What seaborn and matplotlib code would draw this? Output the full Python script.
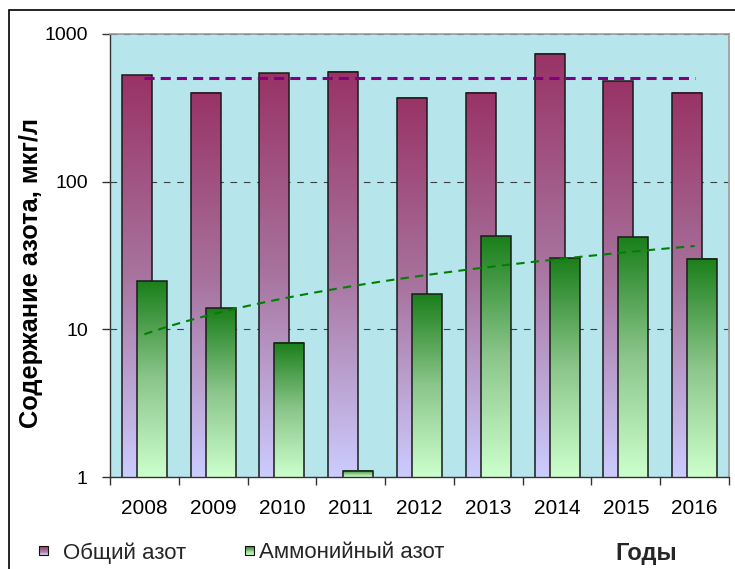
import numpy as np
import pandas as pd
import matplotlib
matplotlib.use("Agg")
import matplotlib.pyplot as plt
import seaborn as sns
from matplotlib.colors import LinearSegmentedColormap
from matplotlib.patches import Rectangle
from matplotlib.legend_handler import HandlerBase
from matplotlib.ticker import NullLocator, FixedLocator

# --- data ---------------------------------------------------------------
years = ["2008", "2009", "2010", "2011", "2012", "2013", "2014", "2015", "2016"]
total_n = [527, 400, 541, 555, 370, 400, 735, 480, 400]          # Общий азот
ammonium_n = [21.2, 13.9, 8.1, 1.1, 17.3, 42.8, 30.3, 42.0, 30.0]  # Аммонийный азот
norm_total = 500
series_names = ["Общий азот", "Аммонийный азот"]
y_ticks = [1, 10, 100, 1000]
y_tick_labels = ["1", "10", "100", "1000"]

# --- style --------------------------------------------------------------
sns.set_theme(style="white")
plt.rcParams["font.family"] = ["Liberation Sans", "DejaVu Sans"]

purple_cmap = LinearSegmentedColormap.from_list("purple_grad", ["#ccccff", "#a8749f", "#993366"])
green_cmap = LinearSegmentedColormap.from_list("green_grad", ["#ccffcc", "#8cc68c", "#1a7f1a"])
cmaps = [purple_cmap, green_cmap]

df = pd.DataFrame({
    "Год": years * 2,
    "value": total_n + ammonium_n,
    "series": [series_names[0]] * len(years) + [series_names[1]] * len(years),
})

fig = plt.figure(figsize=(7.35, 5.69), dpi=100)
ax = fig.add_axes([110 / 735, 92 / 569, 619 / 735, 443 / 569])
ax.set_facecolor("#b6e5ec")

bar_w = 0.435
shift = 0.109
sns.barplot(data=df, x="Год", y="value", hue="series", dodge=False, width=bar_w,
            palette=["#a8749f", "#8cc68c"], edgecolor="#1a1a1a", linewidth=1.1,
            legend=False, ax=ax)

ax.set_yscale("log")
ax.set_ylim(1, 1000)
ax.set_xlim(-0.5, len(years) - 0.5)
ax.set_autoscale_on(False)

# shift the two series so they partly overlap, then give each bar a vertical gradient
to_axes = ax.transData + ax.transAxes.inverted()
grad = np.linspace(1, 0, 256).reshape(-1, 1)
for k, (cont, cmap) in enumerate(zip(ax.containers, cmaps)):
    dx = -shift if k == 0 else shift
    for rect in cont:
        rect.set_x(rect.get_x() + dx)
        x0, w, h = rect.get_x(), rect.get_width(), rect.get_height()
        xa0, ya0 = to_axes.transform((x0, 1))
        xa1, ya1 = to_axes.transform((x0 + w, h))
        ax.imshow(grad, cmap=cmap, aspect="auto", extent=[xa0, xa1, ya0, ya1],
                  transform=ax.transAxes, origin="upper", zorder=2 + 0.2 * k,
                  interpolation="bilinear")
        rect.set_facecolor("none")
        rect.set_zorder(2.1 + 0.2 * k)

# norm line for total nitrogen
ax.hlines(norm_total, 0, len(years) - 1, colors="#800080", linewidth=2.2,
          linestyles=[(0, (3.3, 2.0))], zorder=4)

# linear trend of ammonium nitrogen
sns.regplot(x=np.arange(len(years)), y=np.array(ammonium_n), scatter=False, ci=None,
            truncate=True, ax=ax,
            line_kws=dict(color="#008000", linewidth=1.5, linestyle=(0, (4, 3)), zorder=4))
ax.set_ylim(1, 1000)
ax.set_xlim(-0.5, len(years) - 0.5)

# grid, ticks, spines
ax.yaxis.grid(True, color="#404040", linewidth=0.8, linestyle=(0, (6, 6)))
ax.xaxis.grid(False)
ax.set_axisbelow(True)
ax.yaxis.set_major_locator(FixedLocator(y_ticks))
ax.set_yticklabels(y_tick_labels)
ax.yaxis.set_minor_locator(NullLocator())
ax.set_xticks(range(len(years)))
ax.set_xticklabels(years)
ax.set_xticks(np.arange(-0.5, len(years)), minor=True)
ax.tick_params(axis="x", which="major", length=0, pad=16, labelsize=15, colors="black")
ax.tick_params(axis="x", which="minor", length=6, width=1, color="#333333", direction="out", bottom=True)
ax.tick_params(axis="y", which="major", length=6, width=1, color="#333333", direction="out",
               left=True, pad=10, labelsize=14, labelcolor="black")
ax.set_xlabel("")
ax.set_ylabel("Содержание азота, мкг/л", fontsize=18.3, fontweight="bold", color="black")
ax.yaxis.set_label_coords(-0.108, 0.4616)

for side in ("top", "right"):
    ax.spines[side].set_color("#9a9a9a")
    ax.spines[side].set_linewidth(1.2)
for side in ("left", "bottom"):
    ax.spines[side].set_color("#333333")
    ax.spines[side].set_linewidth(1.0)

fig.text(646 / 735, 1 - 560 / 569, "Годы", fontsize=17, fontweight="bold",
         ha="center", va="baseline")


# legend with gradient squares
class GradientSquare(HandlerBase):
    def __init__(self, cmap):
        super().__init__()
        self.cmap = cmap

    def create_artists(self, legend, orig_handle, xdescent, ydescent, width, height, fontsize, trans):
        n = 10
        side = min(width, height)
        x0 = -xdescent + (width - side) / 2
        y0 = -ydescent + (height - side) / 2
        arts = []
        for i in range(n):
            arts.append(Rectangle((x0, y0 + side * i / n), side, side / n,
                                  facecolor=self.cmap((i + 0.5) / n), edgecolor="none",
                                  transform=trans))
        arts.append(Rectangle((x0, y0), side, side, facecolor="none",
                              edgecolor="#111111", linewidth=0.8, transform=trans))
        return arts


legend_x = [39, 245]
legend_pad = [0.68, 0.23]
for name, cmap, lx, tp in zip(series_names, cmaps, legend_x, legend_pad):
    h = Rectangle((0, 0), 1, 1)
    fig.legend([h], [name], loc="center left",
               bbox_to_anchor=(lx / 735, 1 - 553 / 569), frameon=False,
               fontsize=16, handlelength=0.4, handleheight=0.4, handletextpad=tp,
               borderaxespad=0, borderpad=0, handler_map={h: GradientSquare(cmap)})

# outer chart frame
fig.add_artist(Rectangle((9 / 735, -0.1), 2, 0.1 + 1 - 10 / 569, transform=fig.transFigure,
                         fill=False, edgecolor="black", linewidth=1.2))

fig.savefig("out.png", dpi=100)
